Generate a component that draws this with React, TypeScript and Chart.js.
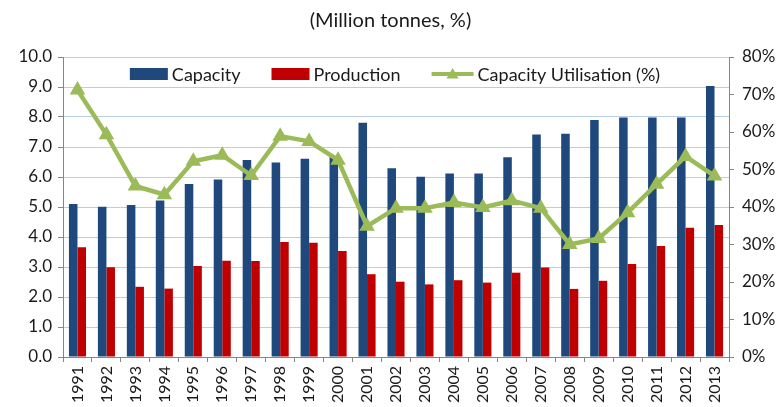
import React, { useEffect, useRef } from "react";
import { Chart, registerables } from "chart.js";

Chart.register(...registerables);

const years = [
  "1991", "1992", "1993", "1994", "1995", "1996", "1997", "1998", "1999", "2000",
  "2001", "2002", "2003", "2004", "2005", "2006", "2007", "2008", "2009", "2010",
  "2011", "2012", "2013",
];

const capacity = [
  5.1, 5.01, 5.07, 5.22, 5.77, 5.92, 6.57, 6.48, 6.61, 6.7,
  7.81, 6.29, 6.01, 6.12, 6.12, 6.66, 7.42, 7.44, 7.9, 7.98,
  7.98, 7.98, 9.03,
];

const production = [
  3.66, 2.99, 2.34, 2.28, 3.03, 3.21, 3.2, 3.83, 3.81, 3.53,
  2.76, 2.51, 2.42, 2.56, 2.48, 2.81, 2.98, 2.27, 2.54, 3.1,
  3.7, 4.31, 4.4,
];

const utilisation = [
  71.2, 59.3, 45.6, 43.3, 52.2, 53.8, 48.4, 58.9, 57.5, 52.5,
  34.9, 39.7, 39.7, 41.2, 39.9, 41.7, 39.7, 30.0, 31.6, 38.5,
  46.1, 53.5, 48.3,
];

const leftTicks = [0, 1, 2, 3, 4, 5, 6, 7, 8, 9, 10];
const rightTicks = [0, 10, 20, 30, 40, 50, 60, 70, 80];

const TITLE = "(Million tonnes, %)";
const FONT = "Lato, 'Open Sans', sans-serif";
const TEXT = "#1a1a1a";
const AXIS = "#868686";
const GRID = "#B9CDE5";
const BLUE = "#1F497D";
const RED = "#C00000";
const GREEN = "#9BBB59";

const titlePlugin = {
  id: "topTitle",
  afterDraw(chart: any) {
    const ctx = chart.ctx;
    ctx.save();
    ctx.font = `20px ${FONT}`;
    ctx.fillStyle = TEXT;
    ctx.textAlign = "center";
    ctx.textBaseline = "middle";
    ctx.fillText(TITLE, chart.width / 2 - 1, 21);
    ctx.restore();
  },
};

function drawTriangle(ctx: CanvasRenderingContext2D, x: number, y: number, r: number) {
  const h = r * 1.5;
  const side = r * Math.sqrt(3);
  ctx.beginPath();
  ctx.moveTo(x, y - r);
  ctx.lineTo(x - side / 2, y - r + h);
  ctx.lineTo(x + side / 2, y - r + h);
  ctx.closePath();
  ctx.fill();
}

const legendPlugin = {
  id: "insideLegend",
  afterDraw(chart: any) {
    const ctx: CanvasRenderingContext2D = chart.ctx;
    const area = chart.chartArea;
    ctx.save();
    ctx.font = `18px ${FONT}`;
    const items = chart.data.datasets.map((ds: any) => ({
      label: ds.label as string,
      color: (ds.type === "line" ? ds.borderColor : ds.backgroundColor) as string,
      line: ds.type === "line",
    }));
    const boxW = 38;
    const gap = 4;
    const spacing = 31;
    const widths = items.map((it: any) => boxW + gap + (it.line ? 4 : 0) + ctx.measureText(it.label).width);
    const total = widths.reduce((a: number, b: number) => a + b, 0) + spacing * (items.length - 1);
    let x = (area.left + area.right) / 2 - total / 2 - 1;
    const cy = area.top + 17;
    items.forEach((it: any, i: number) => {
      if (it.line) {
        ctx.strokeStyle = it.color;
        ctx.lineWidth = 4;
        ctx.beginPath();
        ctx.moveTo(x, cy);
        ctx.lineTo(x + boxW + 4, cy);
        ctx.stroke();
        ctx.fillStyle = it.color;
        drawTriangle(ctx, x + (boxW + 4) / 2, cy + 1, 7);
      } else {
        ctx.fillStyle = it.color;
        ctx.fillRect(x, cy - 6, boxW, 12);
      }
      ctx.fillStyle = TEXT;
      ctx.textAlign = "left";
      ctx.textBaseline = "middle";
      ctx.fillText(it.label, x + boxW + gap + (it.line ? 4 : 0), cy + 1);
      x += widths[i] + spacing;
    });
    ctx.restore();
  },
};

export default function App() {
  const ref = useRef<HTMLCanvasElement | null>(null);

  useEffect(() => {
    if (!ref.current) return;
    const chart = new Chart(ref.current, {
      type: "bar",
      data: {
        labels: years,
        datasets: [
          {
            type: "bar",
            label: "Capacity",
            data: capacity,
            backgroundColor: BLUE,
            yAxisID: "y",
            order: 2,
            categoryPercentage: 0.59,
            barPercentage: 1,
          },
          {
            type: "bar",
            label: "Production",
            data: production,
            backgroundColor: RED,
            yAxisID: "y",
            order: 2,
            categoryPercentage: 0.59,
            barPercentage: 1,
          },
          {
            type: "line",
            label: "Capacity Utilisation (%)",
            data: utilisation,
            borderColor: GREEN,
            backgroundColor: GREEN,
            borderWidth: 4.5,
            pointStyle: "triangle",
            pointRadius: 9,
            pointBackgroundColor: GREEN,
            pointBorderColor: GREEN,
            pointBorderWidth: 0,
            tension: 0,
            yAxisID: "y1",
            order: 0,
          } as any,
        ],
      },
      options: {
        responsive: false,
        animation: false,
        devicePixelRatio: 1,
        layout: { padding: { top: 57, left: 0, right: 0, bottom: 0 } },
        plugins: {
          legend: { display: false },
          title: { display: false },
          tooltip: { enabled: false },
        },
        scales: {
          x: {
            afterFit: (s: any) => {
              s.height = 50;
            },
            grid: {
              drawOnChartArea: false,
              drawTicks: true,
              tickLength: 5,
              tickColor: AXIS,
              offset: true,
            },
            border: { color: AXIS, width: 1 },
            ticks: {
              autoSkip: false,
              maxRotation: 90,
              minRotation: 90,
              padding: 4,
              color: TEXT,
              font: { family: FONT, size: 16 },
            },
          },
          y: {
            position: "left",
            min: 0,
            max: 10,
            afterFit: (s: any) => {
              s.width = 63;
            },
            afterBuildTicks: (s: any) => {
              s.ticks = leftTicks.map((v) => ({ value: v }));
            },
            grid: {
              color: GRID,
              lineWidth: 1,
              tickLength: 5,
              tickColor: AXIS,
            },
            border: { color: AXIS, width: 1 },
            ticks: {
              padding: 6,
              color: TEXT,
              font: { family: FONT, size: 17 },
              callback: (v: any) => Number(v).toFixed(1),
            },
          },
          y1: {
            position: "right",
            min: 0,
            max: 80,
            afterFit: (s: any) => {
              s.width = 54;
            },
            afterBuildTicks: (s: any) => {
              s.ticks = rightTicks.map((v) => ({ value: v }));
            },
            grid: {
              drawOnChartArea: false,
              tickLength: 5,
              tickColor: AXIS,
            },
            border: { color: AXIS, width: 1 },
            ticks: {
              padding: 8,
              color: TEXT,
              font: { family: FONT, size: 17 },
              callback: (v: any) => `${v}%`,
            },
          },
        },
      } as any,
      plugins: [titlePlugin, legendPlugin],
    });
    return () => chart.destroy();
  }, []);

  return (
    <div style={{ position: "absolute", left: 0, top: 0, width: 783, height: 407, background: "#fff" }}>
      <canvas ref={ref} width={783} height={407} />
    </div>
  );
}
